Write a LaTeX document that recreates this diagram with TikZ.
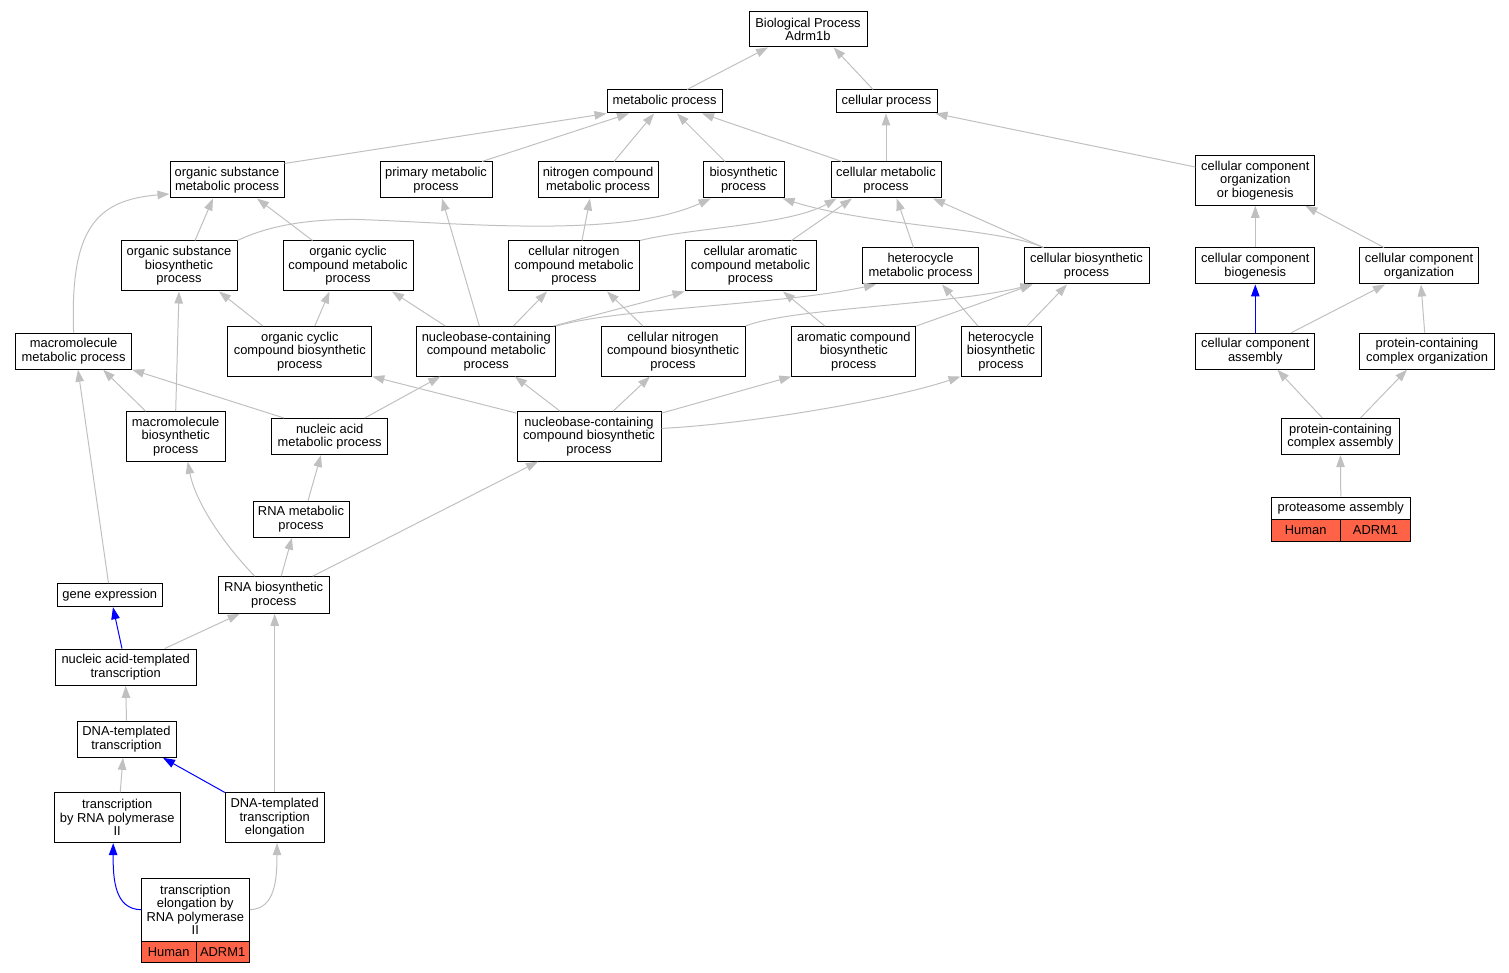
\documentclass[tikz,border=0pt]{standalone}
\usepackage{fontspec}
\setmainfont{Liberation Sans}
\usetikzlibrary{arrows.meta}
\definecolor{edgegray}{HTML}{C0C0C0}
\definecolor{tomato}{HTML}{FF6347}
\begin{document}
\begin{tikzpicture}[x=1pt,y=-1pt]
\tikzstyle{every node}+=[inner sep=0pt]
\tikzstyle{term}=[draw=black, line width=1pt, fill=white, align=center, font=\fontsize{12.9}{13.5}\selectfont]
\tikzstyle{cell}=[term, fill=tomato]
\tikzstyle{isa}=[draw=edgegray, line width=1pt, -{Triangle[length=12pt,width=8.5pt]}]
\tikzstyle{partof}=[isa, draw=blue]
\useasboundingbox (0,0) rectangle (1509,973);
\node[term, minimum width=118pt, minimum height=35pt] (bp) at (808,29.5) {Biological Process\\Adrm1b};
\node[term, minimum width=115pt, minimum height=23pt] (metab) at (664.5,101.5) {metabolic process};
\node[term, minimum width=101pt, minimum height=23pt] (cellproc) at (886.5,101.5) {cellular process};
\node[term, minimum width=114pt, minimum height=36pt] (orgsubmetab) at (227,180) {organic substance\\metabolic process};
\node[term, minimum width=112pt, minimum height=36pt] (primmetab) at (436,180) {primary metabolic\\process};
\node[term, minimum width=120pt, minimum height=36pt] (nitromets) at (598,180) {nitrogen compound\\metabolic process};
\node[term, minimum width=81pt, minimum height=36pt] (biosynth) at (743.6,180) {biosynthetic\\process};
\node[term, minimum width=110pt, minimum height=36pt] (cellmetab) at (886,180) {cellular metabolic\\process};
\node[term, minimum width=119pt, minimum height=49.6pt] (ccorgbio) at (1255.3,180.5) {cellular component\\organization\\or biogenesis};
\node[term, minimum width=116pt, minimum height=50pt] (orgsubbio) at (179,266) {organic substance\\biosynthetic\\process};
\node[term, minimum width=130pt, minimum height=50pt] (orgcycmetab) at (348,266) {organic cyclic\\compound metabolic\\process};
\node[term, minimum width=131pt, minimum height=50pt] (cellnitmetab) at (574,266) {cellular nitrogen\\compound metabolic\\process};
\node[term, minimum width=131pt, minimum height=50pt] (cellaromet) at (750.5,266) {cellular aromatic\\compound metabolic\\process};
\node[term, minimum width=116pt, minimum height=36pt] (hetmetab) at (920.5,266) {heterocycle\\metabolic process};
\node[term, minimum width=125pt, minimum height=36pt] (cellbio) at (1086.5,266) {cellular biosynthetic\\process};
\node[term, minimum width=119pt, minimum height=36pt] (ccbiogen) at (1255.3,266) {cellular component\\biogenesis};
\node[term, minimum width=119pt, minimum height=36pt] (ccorg) at (1419,266) {cellular component\\organization};
\node[term, minimum width=116pt, minimum height=36pt] (macromet) at (73.6,351.2) {macromolecule\\metabolic process};
\node[term, minimum width=144pt, minimum height=49.5pt] (orgcycbio) at (299.8,351.3) {organic cyclic\\compound biosynthetic\\process};
\node[term, minimum width=139pt, minimum height=49.5pt] (nucmetab) at (486.3,351.3) {nucleobase-containing\\compound metabolic\\process};
\node[term, minimum width=144pt, minimum height=49.5pt] (cellnitbio) at (673,351.3) {cellular nitrogen\\compound biosynthetic\\process};
\node[term, minimum width=124pt, minimum height=49.5pt] (arombio) at (853.8,351.3) {aromatic compound\\biosynthetic\\process};
\node[term, minimum width=80pt, minimum height=49.5pt] (hetbio) at (1001,351.3) {heterocycle\\biosynthetic\\process};
\node[term, minimum width=119pt, minimum height=36pt] (ccassem) at (1255.3,351.2) {cellular component\\assembly};
\node[term, minimum width=134.5pt, minimum height=36pt] (pcorg) at (1427,351.2) {protein-containing\\complex organization};
\node[term, minimum width=99pt, minimum height=49.6pt] (macrobio) at (175.7,436.5) {macromolecule\\biosynthetic\\process};
\node[term, minimum width=116pt, minimum height=36pt] (nucacmet) at (329.7,436.5) {nucleic acid\\metabolic process};
\node[term, minimum width=144pt, minimum height=49.5pt] (nucbio) at (589,436.4) {nucleobase-containing\\compound biosynthetic\\process};
\node[term, minimum width=118pt, minimum height=36pt] (pcassem) at (1340.4,436.5) {protein-containing\\complex assembly};
\node[term, minimum width=96pt, minimum height=36pt] (rnamet) at (301,519.2) {RNA metabolic\\process};
\node[term, minimum width=139.6pt, minimum height=22.3pt] (proteasome) at (1340.8,508.2) {proteasome assembly};
\node[cell, minimum width=69.4pt, minimum height=21.7pt] (proteasomehuman) at (1305.7,530.2) {Human};
\node[cell, minimum width=70.2pt, minimum height=21.7pt] (proteasomeadrm) at (1375.5,530.2) {ADRM1};
\node[term, minimum width=105.5pt, minimum height=23pt] (geneexp) at (109.8,595.2) {gene expression};
\node[term, minimum width=110.7pt, minimum height=36.6pt] (rnabio) at (273.7,595) {RNA biosynthetic\\process};
\node[term, minimum width=140.7pt, minimum height=36.3pt] (natrans) at (125.7,667.2) {nucleic acid-templated\\transcription};
\node[term, minimum width=99pt, minimum height=36.3pt] (dnatrans) at (126.5,739.2) {DNA-templated\\transcription};
\node[term, minimum width=125.7pt, minimum height=49.7pt] (trpol) at (117.2,817.8) {transcription\\by RNA polymerase\\II};
\node[term, minimum width=98.7pt, minimum height=49.7pt] (dnaelong) at (274.7,817.8) {DNA-templated\\transcription\\elongation};
\node[term, minimum width=108pt, minimum height=62.7pt] (elongpol) at (195.3,909.7) {transcription\\elongation by\\RNA polymerase\\II};
\node[cell, minimum width=54.7pt, minimum height=21.3pt] (elonghuman) at (168.7,951.65) {Human};
\node[cell, minimum width=53.3pt, minimum height=21.3pt] (elongadrm) at (222.65,951.65) {ADRM1};
\draw[isa] ([xshift=22.5]metab.north) -- ([xshift=-40]bp.south);
\draw[isa] ([xshift=-13.5]cellproc.north) -- ([xshift=25.6]bp.south);
\draw[isa] ([yshift=-2]orgsubmetab.north east) -- (metab.south west);
\draw[isa] ([xshift=46]primmetab.north) -- ([xshift=-35.5]metab.south);
\draw[isa] ([xshift=16]nitromets.north) -- ([xshift=-10.5]metab.south);
\draw[isa] ([xshift=-18.6]biosynth.north) -- ([xshift=12.5]metab.south);
\draw[isa] ([xshift=-44]cellmetab.north) -- ([xshift=37.5]metab.south);
\draw[isa] (cellmetab.north) -- (cellmetab.north |- cellproc.south);
\draw[isa] ([yshift=13.5]ccorgbio.west) -- ([xshift=-2]cellproc.south east);
\draw[isa] ([xshift=16]orgsubbio.north) -- ([xshift=-14]orgsubmetab.south);
\draw[isa] ([xshift=-35.5]orgcycmetab.north) -- ([xshift=30]orgsubmetab.south);
\draw[isa] (macromet.north) .. controls (70,230) and (95,200) .. ([yshift=-14]orgsubmetab.west);
\draw[isa] (orgsubbio.north east) .. controls (270,225) and (310,219) .. (357,219.5) .. controls (450,222) and (620,240) .. ([xshift=8]biosynth.south west);
\draw[isa] ([xshift=8]cellnitmetab.north) -- ([xshift=-8]nitromets.south);
\draw[isa] (cellnitmetab.north east) .. controls (690,228) and (790,225) .. ([xshift=6]cellmetab.south west);
\draw[isa] ([xshift=41]cellaromet.north) -- ([xshift=-34]cellmetab.south);
\draw[isa] ([xshift=-7]hetmetab.north) -- ([xshift=10.7]cellmetab.south);
\draw[isa] ([xshift=-43]cellbio.north) -- ([xshift=47]cellmetab.south);
\draw[isa] ([xshift=-43]cellbio.north) .. controls (1000,228) and (870,226) .. ([xshift=-2]biosynth.south east);
\draw[isa] (ccbiogen.north) -- (ccorgbio.south);
\draw[isa] ([xshift=-35]ccorg.north) -- ([xshift=50]ccorgbio.south);
\draw[isa] ([xshift=-37]orgcycbio.north) -- ([xshift=40]orgsubbio.south);
\draw[isa] ([xshift=15]orgcycbio.north) -- ([xshift=-18.5]orgcycmetab.south);
\draw[isa] ([xshift=-41]nucmetab.north) -- ([xshift=44]orgcycmetab.south);
\draw[isa] ([xshift=-7]nucmetab.north) -- ([xshift=6]primmetab.south);
\draw[isa] ([xshift=27]nucmetab.north) -- ([xshift=-27]cellnitmetab.south);
\draw[isa] ([xshift=-3]nucmetab.north east) -- (cellaromet.south west);
\draw[isa] (nucmetab.north east) .. controls (620,308) and (780,305) .. ([xshift=14]hetmetab.south west);
\draw[isa] (cellnitbio.north east) .. controls (790,308) and (950,305) .. ([xshift=9]cellbio.south west);
\draw[isa] (arombio.north east) -- ([xshift=9]cellbio.south west);
\draw[isa] ([xshift=-29]arombio.north) -- ([xshift=32.5]cellaromet.south);
\draw[isa] ([xshift=-23]hetbio.north) -- ([xshift=21.5]hetmetab.south);
\draw[isa] ([xshift=26]hetbio.north) -- ([xshift=-19.5]cellbio.south);
\draw[isa] ([xshift=-30]cellnitbio.north) -- ([xshift=33]cellnitmetab.south);
\draw[partof] (ccassem.north) -- (ccbiogen.south);
\draw[isa] ([xshift=36]ccassem.north) -- ([xshift=-34]ccorg.south);
\draw[isa] ([xshift=-2.3]pcorg.north) -- ([xshift=2]ccorg.south);
\draw[isa] ([xshift=-30]macrobio.north) -- ([xshift=29.5]macromet.south);
\draw[isa] (macrobio.north) -- (orgsubbio.south);
\draw[isa] ([xshift=-45.7]nucacmet.north) -- (macromet.south east);
\draw[isa] ([xshift=35]nucacmet.north) -- ([xshift=-46]nucmetab.south);
\draw[isa] ([yshift=-2]nucbio.north west) -- (orgcycbio.south east);
\draw[isa] ([xshift=-29]nucbio.north) -- ([xshift=28.7]nucmetab.south);
\draw[isa] ([xshift=24]nucbio.north) -- ([xshift=-23]cellnitbio.south);
\draw[isa] ([yshift=-2]nucbio.north east) -- (arombio.south west);
\draw[isa] ([yshift=8]nucbio.east) .. controls (750,424) and (890,400) .. (hetbio.south west);
\draw[isa] ([xshift=-18]pcassem.north) -- ([xshift=22]ccassem.south);
\draw[isa] ([xshift=20]pcassem.north) -- ([xshift=-20]pcorg.south);
\draw[isa] ([xshift=7]rnamet.north) -- ([xshift=-8.7]nucacmet.south);
\draw[isa] (proteasome.north) -- (pcassem.south);
\draw[isa] ([xshift=-1.3]geneexp.north) -- ([xshift=4.4]macromet.south);
\draw[isa] ([xshift=-19]rnabio.north) .. controls (220,540) and (195,500) .. ([xshift=12]macrobio.south);
\draw[isa] ([xshift=7.5]rnabio.north) -- ([xshift=-9]rnamet.south);
\draw[isa] ([xshift=39]rnabio.north) -- ([xshift=-51]nucbio.south);
\draw[partof] ([xshift=-3.7]natrans.north) -- ([xshift=3.2]geneexp.south);
\draw[isa] ([xshift=39]natrans.north) -- ([xshift=-34]rnabio.south);
\draw[isa] (dnatrans.north) -- (natrans.south);
\draw[isa] ([xshift=3]trpol.north) -- ([xshift=-3.5]dnatrans.south);
\draw[partof] (dnaelong.north west) -- ([xshift=36.5]dnatrans.south);
\draw[isa] (dnaelong.north) -- (dnaelong.north |- rnabio.south);
\draw[partof] (elongpol.west) .. controls (115,909) and (113,880) .. ([xshift=-4]trpol.south);
\draw[isa] (elongpol.east) .. controls (275,909) and (277,880) .. ([xshift=2.3]dnaelong.south);
\end{tikzpicture}
\end{document}
